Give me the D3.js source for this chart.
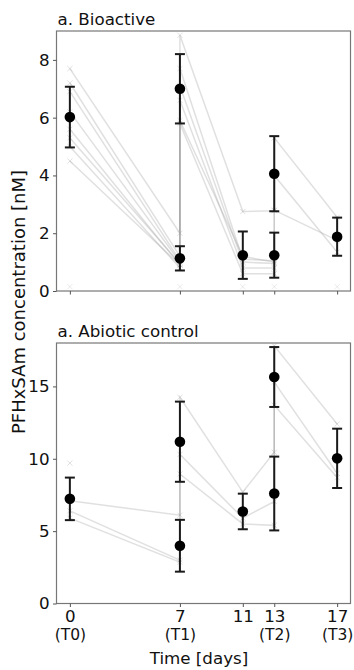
<!DOCTYPE html>
<html>
<head>
<meta charset="utf-8">
<script src="https://cdn.jsdelivr.net/npm/d3@7/dist/d3.min.js"></script>
<style>
  html, body { margin: 0; padding: 0; background: #fff; }
  svg { display: block; }
  text { font-family: "DejaVu Sans", sans-serif; fill: #111; }
</style>
</head>
<body>
<svg id="chart" width="354" height="670"></svg>
<script>
// Sampling days; days 7 and 13 appear twice (before / after re-spiking)
const sampleDays = [0, 7, 7, 11, 13, 13, 17];
const tickDays = [0, 7, 11, 13, 17];
const tickPhase = ["(T0)", "(T1)", "", "(T2)", "(T3)"];

// Bioactive: individual replicates (null = not sampled)
const bioRep1 = [7.7, 2.0, 8.85, 2.75, 2.78, 5.3, 2.55];
const bioRep2 = [7.2, 1.2, 7.7, 1.1, 1.05, 4.0, 1.35];
const bioRep3 = [6.2, 1.0, 7.1, 1.0, 0.95, 2.8, 1.75];
const bioRep4 = [5.6, 0.9, 6.6, 0.8, 0.8, null, null];
const bioRep5 = [5.0, 0.8, 5.8, 0.6, 0.6, null, null];
const bioRep6 = [4.5, 0.9, 5.9, 1.2, 1.0, null, null];
const bioRep7 = [6.9, 1.05, null, null, null, null, null];
const bioRep8 = [5.3, 0.95, null, null, null, null, null];
const bioBlank = [0.15, 0.15, null, 0.15, 0.15, null, 0.15];
// Bioactive: mean and standard deviation
const bioMean = [6.02, 1.13, 7.0, 1.24, 1.24, 4.06, 1.88];
const bioSd = [1.05, 0.42, 1.2, 0.82, 0.78, 1.3, 0.66];

// Abiotic control: individual replicates
const abRep1 = [7.1, 6.1, 14.25, 7.7, 10.45, 17.8, 12.4];
const abRep2 = [6.4, 3.0, 10.3, 5.9, 7.05, 15.3, 9.0];
const abRep3 = [5.9, 2.85, 8.95, 5.5, 5.4, 13.7, 8.7];
const abRep4 = [9.7, null, null, null, null, null, null];
// Abiotic control: mean and standard deviation
const abMean = [7.23, 3.99, 11.18, 6.36, 7.6, 15.65, 10.03];
const abSd = [1.47, 1.79, 2.77, 1.23, 2.55, 2.07, 2.05];

const bioTicks = [0, 2, 4, 6, 8];
const abTicks = [0, 5, 10, 15];

const FS = 16.7;
const svg = d3.select("#chart");
const left = 56.5, right = 350.5;
const x = d3.scaleLinear().domain([-0.85, 17.85]).range([left, right]);

function crossPath(cx, cy, s) {
  return `M${cx - s},${cy - s}L${cx + s},${cy + s}M${cx - s},${cy + s}L${cx + s},${cy - s}`;
}

function panel(cfg) {
  const { top, height, yMax, yTicks, reps, blank, mean, sd, title, showX } = cfg;
  const y = d3.scaleLinear().domain([0, yMax]).range([top + height, top]);
  const g = svg.append("g");

  // replicate traces
  const line = d3.line()
    .defined(d => d.v != null)
    .x(d => x(d.t)).y(d => y(d.v));
  reps.forEach(r => {
    const pts = sampleDays.map((t, i) => ({ t, v: r[i] }));
    g.append("path").datum(pts)
      .attr("d", line)
      .attr("fill", "none")
      .attr("stroke", "#a0a0a0")
      .attr("stroke-opacity", 0.32)
      .attr("stroke-width", 1.5);
    const marks = pts.filter(d => d.v != null);
    g.selectAll(null).data(marks).enter().append("path")
      .attr("d", d => crossPath(x(d.t), y(d.v), 2.6))
      .attr("stroke", "#a0a0a0")
      .attr("stroke-opacity", 0.32)
      .attr("stroke-width", 1);
  });
  if (blank) {
    const pts = sampleDays.map((t, i) => ({ t, v: blank[i] })).filter(d => d.v != null);
    g.selectAll(null).data(pts).enter().append("path")
      .attr("d", d => crossPath(x(d.t), y(d.v), 2.6))
      .attr("stroke", "#bbb")
      .attr("stroke-opacity", 0.3)
      .attr("stroke-width", 1);
  }

  // mean ± sd
  const stats = sampleDays.map((t, i) => ({ t, m: mean[i], s: sd[i] }));
  const eb = g.selectAll(null).data(stats).enter().append("g");
  eb.append("line")
    .attr("x1", d => x(d.t)).attr("x2", d => x(d.t))
    .attr("y1", d => y(d.m - d.s)).attr("y2", d => y(d.m + d.s))
    .attr("stroke", "#1a1a1a").attr("stroke-width", 2);
  [-1, 1].forEach(k => {
    eb.append("line")
      .attr("x1", d => x(d.t) - 5).attr("x2", d => x(d.t) + 5)
      .attr("y1", d => y(d.m + k * d.s)).attr("y2", d => y(d.m + k * d.s))
      .attr("stroke", "#1a1a1a").attr("stroke-width", 2);
  });
  eb.append("circle")
    .attr("cx", d => x(d.t)).attr("cy", d => y(d.m))
    .attr("r", 5.3).attr("fill", "#000");

  // frame
  g.append("rect")
    .attr("x", left).attr("y", top)
    .attr("width", right - left).attr("height", height)
    .attr("fill", "none").attr("stroke", "#777").attr("stroke-width", 1.2);

  // axes
  const ya = d3.axisLeft(y).tickValues(yTicks).tickSize(3.5).tickPadding(3.5);
  const yg = g.append("g").attr("transform", `translate(${left},0)`).call(ya);
  yg.select(".domain").remove();
  yg.selectAll(".tick line").attr("stroke", "#555");
  yg.selectAll(".tick text").attr("font-size", FS).attr("fill", "#111")
    .attr("font-family", "DejaVu Sans, sans-serif");

  const xa = d3.axisBottom(x).tickValues(tickDays).tickSize(3.5).tickPadding(3)
    .tickFormat(showX ? d3.format("d") : () => "");
  const xg = g.append("g").attr("transform", `translate(0,${top + height})`).call(xa);
  xg.select(".domain").remove();
  xg.selectAll(".tick line").attr("stroke", "#555");
  xg.selectAll(".tick text").attr("font-size", FS).attr("fill", "#111")
    .attr("font-family", "DejaVu Sans, sans-serif");
  if (showX) {
    xg.selectAll(".tick").append("text")
      .attr("y", 25.5).attr("dy", "0.71em")
      .attr("text-anchor", "middle")
      .attr("font-size", 15.5).attr("fill", "#111")
      .attr("font-family", "DejaVu Sans, sans-serif")
      .text((d, i) => tickPhase[i]);
  }

  g.append("text")
    .attr("x", left + 1).attr("y", top - 6)
    .attr("font-size", FS)
    .text(title);
}

panel({ top: 31, height: 260, yMax: 9, yTicks: bioTicks,
  reps: [bioRep1, bioRep2, bioRep3, bioRep4, bioRep5, bioRep6, bioRep7, bioRep8], blank: bioBlank,
  mean: bioMean, sd: bioSd, title: "a. Bioactive", showX: false });

panel({ top: 343, height: 260.5, yMax: 18, yTicks: abTicks,
  reps: [abRep1, abRep2, abRep3, abRep4], blank: null,
  mean: abMean, sd: abSd, title: "a. Abiotic control", showX: true });

svg.append("text")
  .attr("transform", "translate(25,302) rotate(-90)")
  .attr("text-anchor", "middle")
  .attr("font-size", 18)
  .text("PFHxSAm concentration [nM]");

svg.append("text")
  .attr("x", 199).attr("y", 664)
  .attr("text-anchor", "middle")
  .attr("font-size", FS)
  .text("Time [days]");
</script>
</body>
</html>
